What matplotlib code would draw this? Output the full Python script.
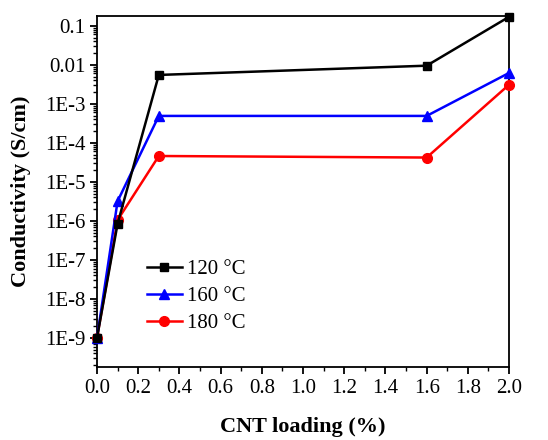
import matplotlib
matplotlib.use("Agg")
import matplotlib.pyplot as plt
from matplotlib.ticker import LogLocator, FixedLocator, MultipleLocator, NullFormatter

plt.rcParams['font.family'] = ['Liberation Serif', 'DejaVu Serif']
plt.rcParams['mathtext.fontset'] = 'stix'

x = [0.0, 0.1, 0.3, 1.6, 2.0]
s120 = [1e-9, 8.5e-7, 5.5e-3, 9.5e-3, 0.17]
s160 = [1e-9, 3.2e-6, 4.9e-4, 4.9e-4, 6.2e-3]
s180 = [1e-9, 1.05e-6, 4.6e-5, 4.2e-5, 3.1e-3]
labels = ['120 °C', '160 °C', '180 °C']
yticks = [1e-9, 1e-8, 1e-7, 1e-6, 1e-5, 1e-4, 1e-3, 1e-2, 1e-1]
ytick_labels = ['1E-9', '1E-8', '1E-7', '1E-6', '1E-5', '1E-4', '1E-3', '0.01', '0.1']

fig = plt.figure(figsize=(5.48, 4.4), dpi=100)
ax = fig.add_axes([0.177, 0.166, 0.752, 0.798])

ax.plot(x, s120, color='black', marker='s', ms=6, lw=1.8, label=labels[0], clip_on=False, zorder=5)
ax.plot(x, s160, color='blue', marker='^', ms=7, lw=1.8, label=labels[1], clip_on=False, zorder=4)
ax.plot(x, s180, color='red', marker='o', ms=7, lw=1.8, label=labels[2], clip_on=False, zorder=3)

ax.set_yscale('log')
ax.set_xlim(0, 2.0)
ax.set_ylim(1.8e-10, 0.18)
ax.yaxis.set_major_locator(FixedLocator(yticks))
ax.set_yticklabels(ytick_labels)
ax.yaxis.set_minor_locator(LogLocator(base=10, subs=range(2, 10), numticks=20))
ax.yaxis.set_minor_formatter(NullFormatter())
ax.xaxis.set_major_locator(MultipleLocator(0.2))
ax.xaxis.set_minor_locator(MultipleLocator(0.1))
ax.set_xticklabels([f'{v:.1f}' for v in ax.get_xticks()])

ax.tick_params(which='major', direction='out', length=5, width=1.3, labelsize=15)
ax.tick_params(which='minor', direction='out', length=3, width=1.0)
for sp in ax.spines.values():
    sp.set_linewidth(1.3)

ax.set_xlabel('CNT loading (%)', fontsize=16, fontweight='bold', labelpad=14)
ax.set_ylabel('Conductivity (S/cm)', fontsize=16, fontweight='bold', labelpad=10)

ax.legend(loc='lower left', bbox_to_anchor=(0.085, 0.055), frameon=False, fontsize=15,
          handlelength=1.7, handletextpad=0.25, labelspacing=0.35, borderpad=0.2)

fig.savefig('out.png', dpi=100)
